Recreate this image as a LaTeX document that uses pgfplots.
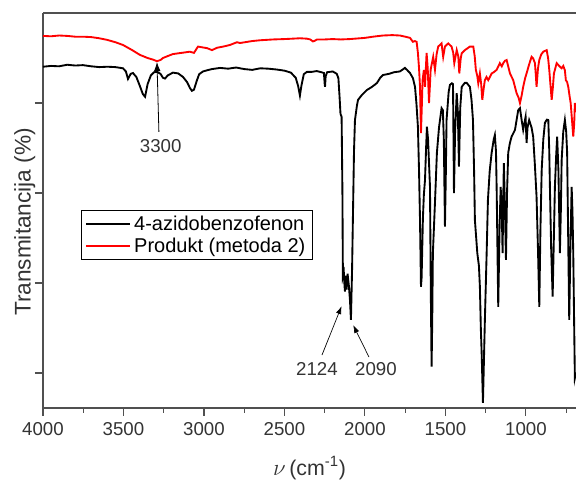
\documentclass[border=0pt]{standalone}
\usepackage{fontspec}
\setmainfont{Liberation Sans}
\usepackage{pgfplots}
\pgfplotsset{compat=1.18}
\usetikzlibrary{arrows.meta}
\definecolor{axisgray}{HTML}{505050}
\definecolor{txtgray}{HTML}{333333}

\pgfplotstableread{
wn v
4000 86.4
3950 86.6
3900 86.5
3850 86.9
3800 86.7
3752 86.8
3700 86.5
3650 86.3
3600 86.4
3550 86.3
3503 86.0
3485 85.2
3472 83.3
3455 84.6
3441 84.8
3420 83.8
3398 81.5
3380 79.5
3366 78.8
3350 82.0
3330 84.2
3310 85.0
3292 85.1
3270 84.6
3255 83.6
3242 83.4
3225 84.2
3193 84.9
3160 84.7
3130 83.8
3105 82.5
3087 81.0
3075 80.3
3062 80.6
3045 82.8
3030 84.5
3006 85.2
2980 85.5
2950 85.8
2900 86.1
2850 85.9
2800 86.2
2750 85.8
2700 85.6
2650 86.0
2600 85.9
2550 85.7
2500 85.4
2460 84.9
2430 83.6
2415 81.5
2404 79.1
2395 81.5
2380 84.5
2360 85.1
2330 85.1
2300 85.3
2270 85.0
2255 84.8
2250 82.0
2248 81.3
2244 84.0
2235 85.0
2200 85.2
2175 84.6
2165 83.5
2158 79.0
2152 74.5
2145 73.7
2140 55.0
2137 33.2
2131 34.2
2127 31.0
2124 29.5
2119 33.5
2114 30.0
2108 34.0
2100 31.0
2093 27.3
2087 22.3
2080 35.0
2075 47.6
2068 65.0
2062 72.9
2050 76.5
2043 78.0
2020 79.2
1988 80.5
1960 81.2
1940 81.8
1925 82.3
1905 83.6
1888 84.3
1850 84.6
1820 85.0
1783 85.2
1765 85.7
1752 86.1
1739 85.6
1720 84.8
1702 83.5
1689 81.3
1680 77.0
1671 71.2
1664 60.0
1658 47.6
1652 30.7
1648 33.0
1640 48.0
1634 54.0
1627 57.7
1620 66.0
1615 71.2
1608 68.0
1602 62.0
1596 56.0
1591 30.0
1586 10.5
1582 22.0
1578 39.2
1565 52.0
1553 64.6
1540 71.0
1524 75.9
1516 75.4
1510 68.0
1503 45.9
1498 58.0
1493 72.9
1480 80.0
1472 81.8
1460 82.2
1453 82.0
1447 54.4
1440 70.0
1430 79.7
1423 75.0
1416 61.1
1408 76.0
1399 81.3
1380 82.3
1368 82.3
1348 81.3
1338 78.0
1329 72.9
1322 60.0
1317 47.6
1302 39.2
1292 36.0
1286 30.7
1280 20.0
1275 13.9
1267 1.3
1262 10.0
1255 22.3
1244 39.2
1236 52.7
1225 60.0
1213 64.6
1200 68.0
1193 69.1
1186 65.0
1182 56.0
1172 25.6
1164 45.0
1157 56.0
1150 50.0
1145 39.2
1140 55.0
1137 62.0
1130 50.0
1124 37.5
1117 55.0
1110 64.6
1100 67.0
1089 68.7
1068 70.4
1048 75.4
1037 75.9
1027 73.0
1017 70.4
1010 72.0
1002 73.7
996 67.1
990 71.0
980 72.9
965 71.0
955 68.7
945 62.0
934 53.5
925 40.0
917 25.6
910 45.0
902 60.3
892 68.0
882 72.2
870 73.0
861 72.9
855 65.0
851 56.0
843 40.0
834 28.2
827 42.0
820 56.0
812 64.0
806 68.7
798 60.0
789 39.2
783 50.0
778 62.8
768 70.0
758 72.9
750 70.0
744 64.6
738 45.0
731 22.3
724 40.0
716 56.0
711 50.0
706 39.2
700 20.0
696 7.6
689 9.0
}\azido

\pgfplotstableread{
wn v
4000 94.2
3950 94.1
3900 94.3
3850 94.2
3800 94.0
3752 94.0
3700 93.9
3650 93.6
3602 93.2
3550 92.6
3503 91.9
3450 90.7
3398 89.4
3350 88.6
3317 88.2
3292 87.8
3270 88.1
3255 88.6
3225 89.1
3193 89.6
3140 89.9
3087 90.2
3062 89.9
3045 91.0
3037 91.5
3010 91.3
2981 91.1
2950 90.6
2919 91.2
2880 91.5
2839 91.9
2795 92.6
2776 92.4
2700 92.9
2650 93.1
2571 93.3
2500 93.4
2450 93.5
2404 93.6
2360 93.5
2340 93.3
2323 92.8
2310 93.0
2298 93.3
2250 93.3
2200 93.4
2150 93.3
2093 93.4
2000 93.7
1950 94.0
1888 94.3
1830 94.4
1783 94.3
1750 94.0
1720 93.7
1702 92.7
1690 92.9
1679 92.7
1671 89.9
1664 86.0
1658 81.3
1652 69.6
1647 76.0
1642 83.0
1634 85.6
1627 81.3
1617 89.9
1610 86.0
1602 77.2
1596 82.0
1592 85.6
1576 88.9
1565 85.6
1555 89.5
1545 91.5
1524 92.3
1514 88.9
1503 91.5
1483 92.3
1462 91.5
1452 90.0
1445 87.3
1430 90.6
1420 89.0
1414 84.7
1405 88.5
1399 89.8
1379 90.6
1348 91.5
1327 91.5
1318 89.0
1311 85.6
1302 84.0
1296 82.2
1286 84.7
1278 82.0
1271 78.0
1262 81.0
1255 83.0
1245 83.8
1234 83.0
1213 84.7
1200 85.0
1182 85.6
1162 87.3
1150 86.5
1141 87.3
1130 87.9
1120 88.1
1110 86.5
1099 84.7
1079 83.0
1058 79.7
1045 78.5
1037 77.2
1027 79.0
1017 81.3
1005 83.5
996 84.7
980 87.0
965 88.9
955 88.5
944 87.3
938 84.0
934 81.3
925 86.0
917 88.1
905 89.5
892 90.2
871 90.6
862 88.5
855 85.6
848 82.0
840 78.0
833 81.0
826 84.7
809 87.3
789 86.4
778 86.0
768 86.6
758 85.5
752 83.0
744 82.5
737 81.3
729 79.0
722 77.2
714 73.0
706 68.7
700 72.0
696 77.2
689 75.0
}\produkt

\begin{document}
\begin{tikzpicture}
\useasboundingbox (-32.25pt,-54.75pt) rectangle (399.75pt,306pt);
\begin{axis}[
  name=ax,
  at={(0,0)}, anchor=south west,
  scale only axis, width=399.75pt, height=296.25pt,
  x dir=reverse, xmin=689, xmax=4000, ymin=0, ymax=100,
  axis x line*=bottom, axis y line*=left,
  axis line style={-, axisgray, line width=0.9pt},
  x axis line style={-}, y axis line style={-},
  xtick={1000,1500,...,4000}, minor xtick={750,1250,...,3750},
  ytick={8.86,31.65,54.43,77.22}, yticklabels={},
  tick align=outside, tick style={axisgray, line width=0.8pt},
  major tick length=6pt, minor tick length=3.5pt,
  /pgf/number format/assume math mode=true,
  /pgf/number format/1000 sep={},
  xticklabel style={font=\fontsize{14pt}{14pt}\selectfont, text=txtgray, yshift=-1.5pt},
  xlabel={$\nu$\,(cm\textsuperscript{-1})},
  every axis x label/.style={at={(axis description cs:0.5,0)}, anchor=center, yshift=-45pt, font=\fontsize{16pt}{16pt}\selectfont, text=txtgray},
  ylabel={Transmitancija (\%)},
  every axis y label/.style={at={(axis description cs:-0.034,0.471)}, rotate=90, anchor=center, font=\fontsize{17pt}{17pt}\selectfont, text=txtgray},
  legend cell align=left,
  legend style={at={(axis description cs:0.0713,0.501)}, anchor=north west, draw=black, line width=0.6pt, font=\fontsize{15pt}{18pt}\selectfont, inner xsep=3pt, inner ysep=2pt, row sep=0pt},
  legend image code/.code={\draw[#1, line width=1.6pt] (0pt,0pt) -- (33pt,0pt);},
]
\addplot[black, line width=1.4pt] table[x=wn, y=v] {\azido};
\addlegendentry{4-azidobenzofenon}
\addplot[red, line width=1.4pt] table[x=wn, y=v] {\produkt};
\addlegendentry{Produkt (metoda 2)}

\draw[black, line width=0.6pt, -{Latex[length=7pt, width=5pt]}] (axis cs:3280,69.9) -- (axis cs:3292,87.6);
\node[font=\fontsize{14pt}{14pt}\selectfont, text=txtgray] at (axis cs:3269,66.4) {3300};
\draw[black, line width=0.5pt, -{Latex[length=6pt, width=4pt]}] (axis cs:2267,13.4) -- (axis cs:2145,25.8);
\node[font=\fontsize{14pt}{14pt}\selectfont, text=txtgray] at (axis cs:2298,9.9) {2124};
\draw[black, line width=0.5pt, -{Latex[length=6pt, width=4pt]}] (axis cs:1975,12.9) -- (axis cs:2073,21.0);
\node[font=\fontsize{14pt}{14pt}\selectfont, text=txtgray] at (axis cs:1932,9.9) {2090};
\end{axis}
\draw[axisgray, line width=0.9pt] (ax.north west) -- (ax.north east);
\end{tikzpicture}
\end{document}
